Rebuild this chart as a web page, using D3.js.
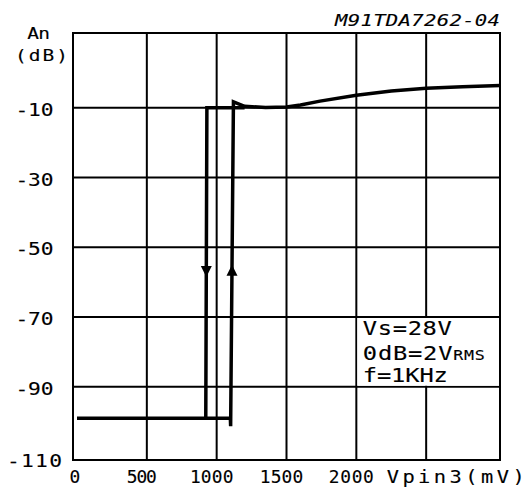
<!DOCTYPE html>
<html><head><meta charset="utf-8">
<script src="https://cdn.jsdelivr.net/npm/d3@7"></script>
<style>html,body{margin:0;padding:0;background:#fff}</style>
</head><body><svg id="c" width="528" height="500"></svg>
<script>
// ---- data ----
const xTickValues = [0, 500, 1000, 1500, 2000];
const xGridValues = [500, 1000, 1500, 2000, 2500];
const yTickValues = [-10, -30, -50, -70, -90, -110];
const yGridValues = [-10, -30, -50, -70, -90];
// increasing-input sweep (Vpin3 mV, An dB)
const upX = [0, 1098, 1100, 1120, 1200, 1350, 1500, 1600, 1740, 2000, 2250, 2500, 2760, 3030];
const upY = [-99, -99, -101.3, -8.3, -9.6, -9.9, -9.8, -9.2, -8.1, -6.4, -5.2, -4.4, -4.0, -3.6];
// decreasing-input sweep
const downX = [1200, 930, 922];
const downY = [-10, -10, -99];
// direction arrows on the sweeps
const arrowX = [1110, 926];
const arrowY = [-55, -58.5];
const arrowDir = [1, -1];
const legendLines = ["Vs=28V", "0dB=2V", "f=1KHz"];
const legendSub = ["", "RMS", ""];
const title = "M91TDA7262-04";
const yTitle = ["An", "(dB)"];
const xTitle = "Vpin3(mV)";

// ---- scales ----
const svg = d3.select("#c");
const x = d3.scaleLinear().domain([0, 3000]).range([77, 496]);
const y = d3.scaleLinear().domain([-110, 10]).range([456.5, 38]);
const FONT = "'DejaVu Sans Mono', monospace";
const fL = x(0) - 4, fR = x(3000) + 4, fT = y(10) - 5, fB = y(-110) + 3.5;

// widened plotter-style text: width = target visual width
function label(parent, str, px, py, size, width, opts = {}) {
  const sx = opts.sx || 1.3;
  const t = parent.append("text")
    .attr("transform", `translate(${px},${py}) scale(${sx},1)`)
    .attr("font-family", FONT).attr("font-size", size).attr("fill", "#000")
    .attr("text-anchor", opts.anchor || "start")
    .attr("stroke", "#000").attr("stroke-width", opts.sw == null ? 0.12 : opts.sw)
    .attr("textLength", width / sx).attr("lengthAdjust", "spacing");
  if (opts.italic) t.attr("font-style", "italic");
  if (Array.isArray(str)) {
    t.append("tspan").text(str[0]);
    t.append("tspan").attr("font-size", size * 0.7).text(str[1]);
  } else t.text(str);
  return t;
}

// grid
const g = svg.append("g").attr("stroke", "#000").attr("stroke-width", 2).attr("fill", "none");
g.selectAll("line.v").data(xGridValues).join("line")
  .attr("x1", d => x(d)).attr("x2", d => x(d)).attr("y1", fT).attr("y2", fB);
g.selectAll("line.h").data(yGridValues).join("line")
  .attr("x1", fL).attr("x2", fR).attr("y1", d => y(d)).attr("y2", d => y(d));
g.append("rect").attr("x", fL).attr("y", fT).attr("width", fR - fL).attr("height", fB - fT);

// legend box (white panel between grid lines)
svg.append("rect").attr("x", x(2000) + 1).attr("y", y(-70) + 1)
  .attr("width", fR - x(2000) - 2).attr("height", y(-90) - y(-70) - 2).attr("fill", "#fff");
const legLen = [89, 122, 85];
const legBase = [335, 360, 381.7];
legendLines.forEach((t, i) => {
  label(svg, legendSub[i] ? [t, legendSub[i]] : t, x(2000) + 6.5, legBase[i], 19, legLen[i], {sx: 1.25});
});

// curves
const line = d3.line().x(d => x(d[0])).y(d => y(d[1]));
const curve = svg.append("g").attr("fill", "none").attr("stroke", "#000")
  .attr("stroke-width", 3.5).attr("stroke-linejoin", "miter");
curve.append("path").attr("d", line(upX.map((v, i) => [v, upY[i]])));
curve.append("path").attr("d", line(downX.map((v, i) => [v, downY[i]])));
arrowX.forEach((v, i) => {
  const px = x(v), py = y(arrowY[i]), d = arrowDir[i];
  svg.append("path").attr("fill", "#000")
    .attr("d", `M${px},${py} L${px - 5.5},${py + d * 11} L${px + 5.5},${py + d * 11} Z`);
});

// axis labels
const yW = {"-10": 38, "-30": 38, "-50": 38, "-70": 38, "-90": 38, "-110": 55};
yTickValues.forEach(v => {
  label(svg, String(v), 34.5, y(v) + (v === -110 ? 10 : 8), 17, yW[String(v)], {anchor: "middle", sx: 1.25});
});
const xW = {"0": 8.5, "500": 30, "1000": 43.5, "1500": 43.5, "2000": 45};
xTickValues.forEach(v => {
  label(svg, String(v), x(v) - (v === 0 ? 2 : 5), 482.5, 17, xW[String(v)], {anchor: "middle", sx: 1.05});
});
label(svg, xTitle, 386.7, 482.5, 17, 138, {sx: 1.2});
label(svg, yTitle[0], 27.3, 39.3, 15, 22.7, {sx: 1.3});
label(svg, yTitle[1], 15, 61, 15, 53, {sx: 1.3});
label(svg, title, 335, 26, 16.5, 165, {sx: 1.25, italic: true});
</script></body></html>
